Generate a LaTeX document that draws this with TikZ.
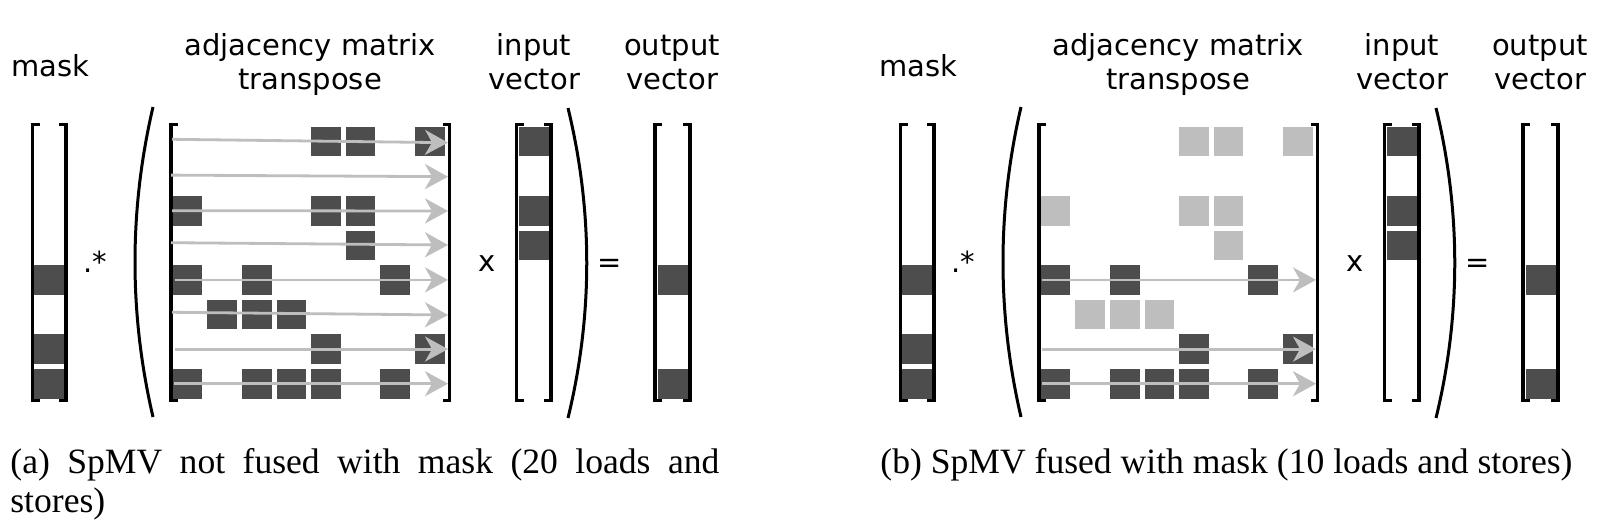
\documentclass[tikz,border=0pt]{standalone}
\usepackage{fontspec}
\setmainfont{Liberation Serif}
\newfontfamily\labfont{DejaVu Sans}
\usetikzlibrary{arrows.meta}
\definecolor{cdark}{HTML}{4D4D4D}
\definecolor{clight}{HTML}{BEBEBE}
\definecolor{carrow}{HTML}{BEBEBE}
\newcommand\vbrk[4]{%
  \draw[brk] ({#1+7},#3) -- (#1,#3) -- (#1,#4) -- ({#1+7},#4);
  \draw[brk] ({#2-7},#3) -- (#2,#3) -- (#2,#4) -- ({#2-7},#4);}
\newcommand\vcell[3]{\fill[#3] ({#1-15},{126.7+34.6*#2}) rectangle ++(30,29.7);}
\newcommand\drawframe[2]{%
\begin{scope}[shift={(#1,0)}]
  % labels
  \node[lab,anchor=base west] (#2mask) at (11,76) {mask};
  \node[lab] (#2adj) at (310,56) {adjacency matrix};
  \node[lab] (#2tr) at (310,90) {transpose};
  \node[lab] (#2in) at (534,56) {input};
  \node[lab] (#2inv) at (534,90) {vector};
  \node[lab] (#2out) at (672,56) {output};
  \node[lab] (#2outv) at (672,90) {vector};
  \node[lab,anchor=base west] (#2dot) at (83,272) {.*};
  \node[lab] (#2x) at (487,271) {x};
  \node[lab] (#2eq) at (610,272) {=};
  % brackets
  \vbrk{32.5}{66}{124.5}{400.5}
  \vbrk{171}{449.5}{124.5}{400.5}
  \vbrk{516.5}{551}{124.5}{400.5}
  \vbrk{655}{690}{124.5}{400.5}
  % parentheses
  \draw[paren] (153,107) .. controls (129,210) and (129,314) .. (153,417);
  \draw[paren] (568,108) .. controls (593,211) and (593,315) .. (568,418);
  % mask vector
  \foreach \r in {4,6,7} {\vcell{49.25}{\r}{dcell}}
  % input vector
  \foreach \r in {0,2,3} {\vcell{533.75}{\r}{dcell}}
  % output vector
  \foreach \r in {4,7} {\vcell{672.5}{\r}{dcell}}
\end{scope}}
\begin{document}
\begin{tikzpicture}[x=0.5pt,y=-0.5pt,
  brk/.style={line width=1.6pt, line cap=butt, line join=miter},
  paren/.style={line width=1.5pt},
  dcell/.style={fill=cdark},
  lcell/.style={fill=clight},
  flow/.style={draw=carrow, line width=1.4pt, -{Stealth[length=11.5pt,width=12.5pt,inset=3.5pt]}},
  lab/.style={font=\labfont\fontsize{14.5}{17}\selectfont, inner sep=0pt, anchor=base},
  captext/.style={font=\fontsize{17.8}{19}\selectfont, inner sep=0pt, anchor=base west}]
\useasboundingbox (0,0) rectangle (1600,524);
\fill[white] (0,0) rectangle (1600,524);

% ---------- (a) not fused ----------
\drawframe{0}{a}
\foreach \r/\c in {0/4,0/5,0/7,2/0,2/4,2/5,3/5,4/0,4/2,4/6,5/1,5/2,5/3,6/4,6/7,7/0,7/2,7/3,7/4,7/6}
  {\fill[dcell] ({172.7+34.6*\c},{126.7+34.6*\r}) rectangle ++(29.7,29.7);}
\foreach \r/\xs/\ds/\de in {0/172/-2.2/1.2,1/171/-1/0.6,2/172/0/0.3,3/171/-2.6/-0.3,4/175/0/0,5/172/-2.2/0.5,6/175/0/0,7/174/0/0}
  {\draw[flow] (\xs,{141.5+34.6*\r+\ds}) -- (448,{141.5+34.6*\r+\de});}

% ---------- (b) fused ----------
\drawframe{868}{b}
\begin{scope}[shift={(868,0)}]
\foreach \r/\c in {0/4,0/5,0/7,2/0,2/4,2/5,3/5,5/1,5/2,5/3}
  {\fill[lcell] ({172.7+34.6*\c},{126.7+34.6*\r}) rectangle ++(29.7,29.7);}
\foreach \r/\c in {4/0,4/2,4/6,6/4,6/7,7/0,7/2,7/3,7/4,7/6}
  {\fill[dcell] ({172.7+34.6*\c},{126.7+34.6*\r}) rectangle ++(29.7,29.7);}
\foreach \r in {4,6,7}
  {\draw[flow] (174,{141.5+34.6*\r}) -- (448,{141.5+34.6*\r});}
\end{scope}

% ---------- captions ----------
\node[captext] (capa1) at (10,473) {\hbox to 354.5pt{(a) SpMV not fused with mask (20 loads and}};
\node[captext] (capa2) at (10,512) {stores)};
\node[captext] (capb) at (880,473) {(b) SpMV fused with mask (10 loads and stores)};
\end{tikzpicture}
\end{document}
